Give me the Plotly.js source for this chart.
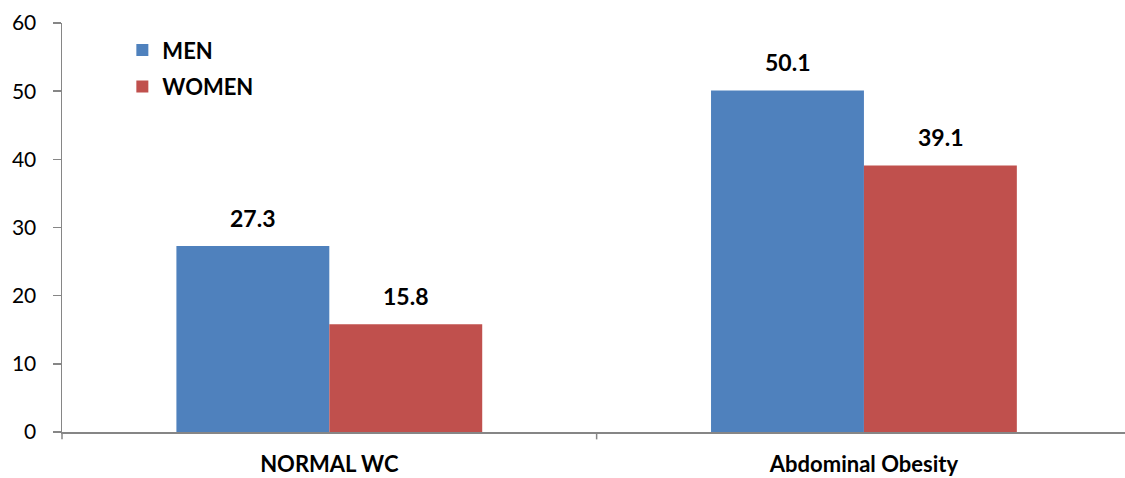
<!DOCTYPE html>
<html><head><meta charset="utf-8">
<script src="https://cdn.plot.ly/plotly-3.0.1.min.js"></script>
<style>html,body{margin:0;padding:0;overflow:hidden;background:#fff}</style>
</head><body><div id="chart"></div>
<script>
const categories = ["NORMAL WC", "Abdominal Obesity"];
const men = [27.3, 50.1];
const women = [15.8, 39.1];
const seriesNames = ["MEN", "WOMEN"];
const yTicks = [0, 10, 20, 30, 40, 50, 60];

const FONT = "Lato, 'Open Sans', sans-serif";
const traces = [
  {type: "bar", name: seriesNames[0], legendgroup: "a", x: categories, y: men, marker: {color: "#4F81BD"}},
  {type: "bar", name: seriesNames[1], legendgroup: "b", x: categories, y: women, marker: {color: "#C0504D"}}
];
const offs = [-0.25, 0.25];
const annotations = [];
[men, women].forEach((vals, s) => {
  vals.forEach((v, i) => {
    annotations.push({
      x: i + offs[s] * (1 - 0.428), y: v, xref: "x", yref: "y",
      text: "<b>" + v.toFixed(1) + "</b>", showarrow: false,
      yanchor: "bottom", yshift: 12,
      font: {family: FONT, size: 23, color: "#000"}
    });
  });
});
const layout = {
  width: 1132, height: 478,
  margin: {l: 62, r: 0, t: 23, b: 46},
  paper_bgcolor: "#fff", plot_bgcolor: "#fff",
  barmode: "group", bargap: 0.428, bargroupgap: 0,
  showlegend: true,
  legend: {x: 0.0564, y: 0.985, xanchor: "left", yanchor: "top",
    font: {family: FONT, size: 22, color: "#000", weight: "bold"},
    traceorder: "grouped", tracegroupgap: 5,
    itemwidth: 30, bgcolor: "rgba(0,0,0,0)"},
  xaxis: {
    type: "category", showline: true, linecolor: "#868686", linewidth: 1.5,
    ticks: "", ticklabelstandoff: 12,
    tickfont: {family: FONT, size: 22, color: "#000", weight: "bold"},
    showgrid: false, zeroline: false, fixedrange: true
  },
  yaxis: {
    range: [0, 60], tickvals: yTicks, ticks: "outside", ticklen: 8,
    tickcolor: "#868686", tickwidth: 1.5, ticklabelstandoff: 12,
    showline: true, linecolor: "#868686", linewidth: 1.5,
    showgrid: false, zeroline: false,
    tickfont: {family: FONT, size: 21, color: "#000"}
  },
  annotations: annotations,
  shapes: [0.5, 1.5].map(b => ({type: "line", xref: "x", yref: "paper",
    x0: b, x1: b, y0: 0, y1: -0.018, line: {color: "#868686", width: 1.5}})).concat(
    [{type: "line", xref: "paper", yref: "paper", x0: 0, x1: 0, y0: 0, y1: -0.018, line: {color: "#868686", width: 1.5}}])
};
Plotly.newPlot("chart", traces, layout, {displayModeBar: false, staticPlot: true});
</script></body></html>
